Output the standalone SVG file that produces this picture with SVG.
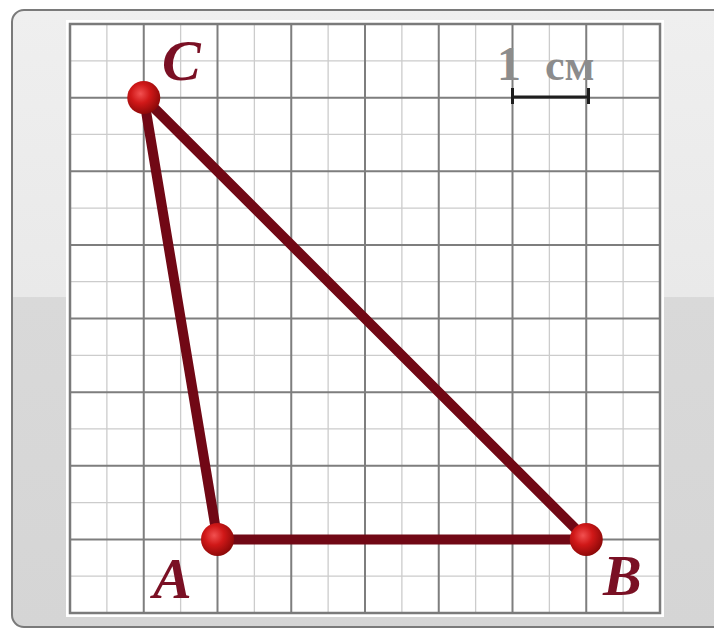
<svg xmlns="http://www.w3.org/2000/svg" width="714" height="630" viewBox="0 0 714 630">
  <defs>
    <linearGradient id="panel" x1="0" y1="0" x2="0" y2="1">
      <stop offset="0" stop-color="#efefef"/>
      <stop offset="0.465" stop-color="#e9e9e9"/>
      <stop offset="0.466" stop-color="#d9d9d9"/>
      <stop offset="1" stop-color="#d5d5d5"/>
    </linearGradient>
    <radialGradient id="ball" cx="0.4" cy="0.38" r="0.65">
      <stop offset="0" stop-color="#f25050"/>
      <stop offset="0.45" stop-color="#d01818"/>
      <stop offset="1" stop-color="#8a0808"/>
    </radialGradient>
    <style>
      .minor { stroke: #cccccc; stroke-width: 1.3; fill: none; }
      .major { stroke: #7e7e7e; stroke-width: 2; fill: none; }
      .edge { stroke: #710815; stroke-width: 10; stroke-linecap: round; fill: none; }
      .pt { fill: url(#ball); }
      .lbl { font-family: "Liberation Serif", "Times New Roman", serif; font-style: italic; font-weight: bold; font-size: 58px; fill: #7a1024; }
      .scale { font-family: "Liberation Serif", "Times New Roman", serif; fill: #8c8c8c; font-weight: bold; }
    </style>
  </defs>
  <rect x="0" y="0" width="714" height="630" fill="#ffffff"/>
  <rect x="12" y="10" width="730" height="617" rx="12" fill="url(#panel)" stroke="#7a7a7a" stroke-width="2"/>
  <rect x="66" y="20" width="598" height="597" fill="#ffffff"/>
  <g id="grid">
    <path class="minor" d="M106.875 24V613M180.625 24V613M254.375 24V613M328.125 24V613M401.875 24V613M475.625 24V613M549.375 24V613M623.125 24V613M70 60.8H660M70 134.4H660M70 208.1H660M70 281.7H660M70 355.3H660M70 428.9H660M70 502.6H660M70 576.2H660"/>
    <path class="major" d="M143.75 24V613M217.5 24V613M291.25 24V613M365 24V613M438.75 24V613M512.5 24V613M586.25 24V613M70 97.625H660M70 171.25H660M70 244.875H660M70 318.5H660M70 392.125H660M70 465.75H660M70 539.375H660"/>
    <rect x="70" y="24" width="590" height="589" fill="none" stroke="#7a7a7a" stroke-width="2.5"/>
  </g>
  <g id="scale">
    <text class="scale" y="80"><tspan x="497" font-size="48">1</tspan><tspan x="545" font-size="44">см</tspan></text>
    <path d="M512.5 88V104M512.5 97H588.5M588.5 88V104" stroke="#1e1e1e" stroke-width="3" fill="none"/>
  </g>
  <g id="connectors">
    <line class="edge" x1="143.75" y1="97.6" x2="217.5" y2="539.4"/>
    <line class="edge" x1="143.75" y1="97.6" x2="586.25" y2="539.4"/>
    <line class="edge" x1="217.5" y1="539.4" x2="586.25" y2="539.4"/>
  </g>
  <g id="C">
    <circle class="pt" cx="143.75" cy="97.6" r="16.5"/>
    <text class="lbl" x="162" y="80">C</text>
  </g>
  <g id="A">
    <circle class="pt" cx="217.5" cy="539.4" r="16.5"/>
    <text class="lbl" x="153" y="598">A</text>
  </g>
  <g id="B">
    <circle class="pt" cx="586.25" cy="539.4" r="16.5"/>
    <text class="lbl" x="603" y="595">B</text>
  </g>
</svg>
